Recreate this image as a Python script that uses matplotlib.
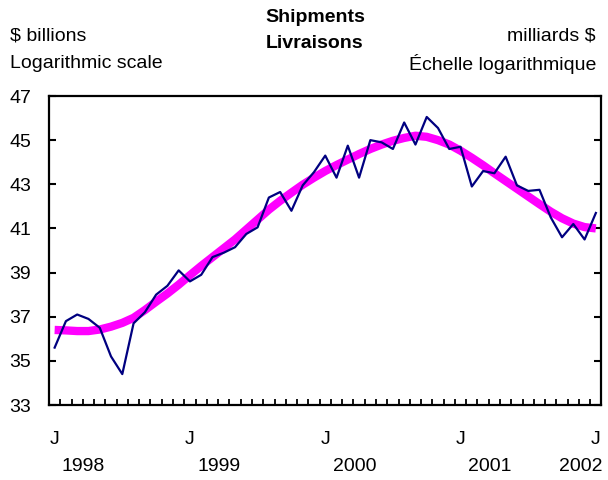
import numpy as np
import matplotlib
matplotlib.use("Agg")
import matplotlib.pyplot as plt
import matplotlib.transforms as mtransforms

plt.rcParams['font.family'] = ['Liberation Sans', 'DejaVu Sans']

# monthly values, Jan 1998 .. Jan 2002
shipments = [35.6, 36.8, 37.1, 36.9, 36.5, 35.2, 34.4, 36.7, 37.2, 38.0,
             38.4, 39.1, 38.6, 38.9, 39.7, 39.9, 40.15, 40.75, 41.05, 42.4,
             42.65, 41.8, 42.95, 43.55, 44.3, 43.3, 44.75, 43.3, 45.0, 44.9,
             44.6, 45.8, 44.8, 46.05, 45.55, 44.6, 44.7, 42.9, 43.6, 43.5,
             44.25, 42.95, 42.7, 42.75, 41.5, 40.6, 41.2, 40.5, 41.7]
trend = [36.4, 36.38, 36.35, 36.35, 36.42, 36.55, 36.72, 36.95, 37.3, 37.68,
         38.05, 38.45, 38.88, 39.3, 39.7, 40.1, 40.5, 40.95, 41.4, 41.85,
         42.25, 42.62, 42.98, 43.3, 43.6, 43.87, 44.12, 44.37, 44.6, 44.8,
         44.97, 45.1, 45.2, 45.15, 45.0, 44.8, 44.52, 44.2, 43.86, 43.5,
         43.15, 42.8, 42.45, 42.1, 41.76, 41.46, 41.22, 41.06, 41.0]
year_labels = ['1998', '1999', '2000', '2001', '2002']
y_ticks = [33, 35, 37, 39, 41, 43, 45, 47]

months = np.arange(len(shipments))

fig = plt.figure(figsize=(6.08, 4.8), dpi=100)
ax = fig.add_axes([0.0806, 0.15625, 0.9087, 0.64375])

ax.plot(months, trend, color='#FF00FF', lw=6, solid_capstyle='butt', zorder=2)
ax.plot(months, shipments, color='#000080', lw=1.6, zorder=3)

ax.set_xlim(-0.5, 48.5)
ax.set_ylim(33, 47)

for s in ax.spines.values():
    s.set_linewidth(1.6)

ax.set_yticks(y_ticks)
ax.set_yticklabels([str(v) for v in y_ticks])
ax.tick_params(axis='y', which='major', direction='in', length=5, width=1.5,
               left=True, right=True, labelsize=14, pad=13)

ax.set_xticks(months[::12])
ax.set_xticklabels(['J'] * 5)
ax.set_xticks(np.arange(0.5, 48, 1), minor=True)
ax.tick_params(axis='x', which='major', length=0, labelsize=14, pad=19)
ax.tick_params(axis='x', which='minor', direction='in', length=4, width=1.3)

trans = mtransforms.blended_transform_factory(ax.transData, ax.transAxes)
for i, yr in enumerate(year_labels[:-1]):
    ax.text(i * 12 + 0.65, -0.198, yr, transform=trans, ha='left', va='center', fontsize=14)
ax.text(46.7, -0.198, year_labels[-1], transform=trans, ha='center', va='center', fontsize=14)

fig.text(10 / 608, 1 - 36 / 480, '$ billions', ha='left', va='center', fontsize=14)
fig.text(10 / 608, 1 - 64 / 480, 'Logarithmic scale', ha='left', va='center', fontsize=14)
fig.text(596 / 608, 1 - 36 / 480, 'milliards $', ha='right', va='center', fontsize=14)
fig.text(596 / 608, 1 - 64 / 480, 'Échelle logarithmique', ha='right', va='center', fontsize=14)
fig.text(315 / 608, 1 - 17 / 480, 'Shipments', ha='center', va='center', fontsize=14, weight='bold')
fig.text(315 / 608, 1 - 44 / 480, 'Livraisons', ha='center', va='center', fontsize=14, weight='bold')

fig.savefig('out.png', dpi=100)
